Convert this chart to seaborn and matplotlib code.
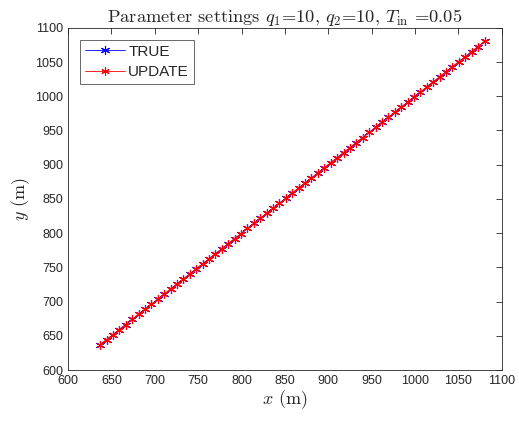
import numpy as np
import pandas as pd
import matplotlib
matplotlib.use("Agg")
import matplotlib.pyplot as plt
import seaborn as sns

# Trajectory samples (m)
true_x = [637.0, 644.4, 651.8, 659.1, 666.5, 673.9, 681.3, 688.7, 696.1, 703.4,
          710.8, 718.2, 725.6, 733.0, 740.4, 747.7, 755.1, 762.5, 769.9, 777.3,
          784.7, 792.0, 799.4, 806.8, 814.2, 821.6, 829.0, 836.3, 843.7, 851.1,
          858.5, 865.9, 873.3, 880.6, 888.0, 895.4, 902.8, 910.2, 917.6, 924.9,
          932.3, 939.7, 947.1, 954.5, 961.9, 969.2, 976.6, 984.0, 991.4, 998.8,
          1006.2, 1013.5, 1020.9, 1028.3, 1035.7, 1043.1, 1050.5, 1057.8, 1065.2,
          1072.6, 1080.0]
true_y = list(true_x)
update_x = list(true_x)
update_y = list(true_y)

series_names = ["TRUE", "UPDATE"]
series_colors = [(0, 0, 1), (1, 0, 0)]
x_ticks = [600, 650, 700, 750, 800, 850, 900, 950, 1000, 1050, 1100]
y_ticks = [600, 650, 700, 750, 800, 850, 900, 950, 1000, 1050, 1100]

frames = [
    pd.DataFrame({"x": true_x, "y": true_y}),
    pd.DataFrame({"x": update_x, "y": update_y}),
]

sns.set_style("white")
plt.rcParams["font.family"] = ["Liberation Sans", "DejaVu Sans"]
plt.rcParams["mathtext.fontset"] = "cm"

fig = plt.figure(figsize=(5.19, 4.21), dpi=100)
ax = fig.add_axes([0.131, 0.121, 0.836, 0.813])

star = (6, 2, 0)
for name, color, frame, ms in zip(series_names, series_colors, frames, [6.5, 6]):
    sns.lineplot(data=frame, x="x", y="y", sort=False, estimator=None,
                 color=color, marker=star, markersize=ms,
                 markeredgecolor=color, markerfacecolor=color,
                 markeredgewidth=0.8, linewidth=0.6, label=name, ax=ax)

ax.set_xlim(600, 1100)
ax.set_ylim(600, 1100)
ax.set_xticks(x_ticks)
ax.set_yticks(y_ticks)
ax.tick_params(direction="in", top=True, right=True, length=4, width=0.6,
               labelsize=9, colors="#262626")
for s in ax.spines.values():
    s.set_visible(True)
    s.set_linewidth(0.6)
    s.set_color("#262626")

ax.set_xlabel(r"$x$ (m)", fontsize=13, labelpad=1, family="cmr10")
ax.set_ylabel(r"$y$ (m)", fontsize=13, labelpad=2, family="cmr10")
ax.set_title(r"Parameter settings $q_1$=10, $q_2$=10, $T_{\rm in}$ =0.05",
             fontsize=13.3, pad=4, family="cmr10")

leg = ax.legend(loc="upper left", fontsize=11, frameon=True, fancybox=False,
                edgecolor="#262626", borderpad=0.3, handlelength=2.6,
                handletextpad=0.25, labelspacing=0.45, borderaxespad=0.8)
leg.get_frame().set_linewidth(0.6)

fig.savefig("out.png", dpi=100)
